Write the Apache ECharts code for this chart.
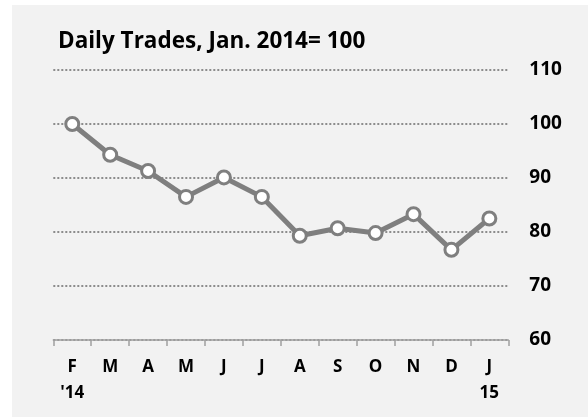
<!DOCTYPE html>
<html>
<head>
<meta charset="utf-8">
<script src="https://cdn.jsdelivr.net/npm/echarts@6/dist/echarts.min.js"></script>
<style>
  html, body { margin: 0; padding: 0; background: #fff; }
  #panel { position: absolute; left: 12px; top: 5px; right: 0; bottom: 0; background: #f2f2f2; }
  #chart { position: absolute; left: 0; top: 0; width: 588px; height: 417px; }
</style>
</head>
<body>
<div id="panel"></div>
<div id="chart"></div>
<script>
const months = ['F', 'M', 'A', 'M', 'J', 'J', 'A', 'S', 'O', 'N', 'D', 'J']
const years = ["'14", '', '', '', '', '', '', '', '', '', '', '15']
const dailyTrades = [100, 94.3, 91.3, 86.5, 90.1, 86.5, 79.3, 80.7, 79.8, 83.3, 76.7, 82.5]

const font = '"Open Sans", "Noto Sans", sans-serif'
const myChart = echarts.init(document.getElementById('chart'))

myChart.setOption({
  animation: false,
  title: {
    text: 'Daily Trades, Jan. 2014= 100',
    left: 53,
    top: 25,
    textStyle: {
      fontFamily: font,
      fontSize: 22.5,
      fontWeight: 'bold',
      color: '#000',
    },
  },
  grid: {
    left: 53.3,
    right: 79.7,
    top: 70,
    bottom: 77,
  },
  xAxis: {
    type: 'category',
    data: months,
    boundaryGap: true,
    axisLine: {
      lineStyle: { color: '#a0a0a0', width: 1.5 },
    },
    axisTick: {
      show: true,
      interval: 0,
      alignWithLabel: false,
      length: 6,
      lineStyle: { color: '#a0a0a0', width: 1.5 },
    },
    axisLabel: {
      margin: 14,
      interval: 0,
      fontFamily: font,
      fontSize: 17,
      fontWeight: 'bold',
      color: '#000',
      lineHeight: 26,
      formatter: (value, idx) => years[idx] ? `${value}\n${years[idx]}` : value,
    },
  },
  yAxis: {
    type: 'value',
    position: 'right',
    min: 60,
    max: 110,
    interval: 10,
    axisLine: { show: false },
    axisTick: { show: false },
    axisLabel: {
      margin: 21,
      fontFamily: font,
      fontSize: 19,
      fontWeight: 'bold',
      color: '#000',
    },
    splitLine: {
      lineStyle: {
        color: '#8c8c8c',
        width: 2,
        type: [2, 2],
      },
    },
  },
  series: [
    {
      type: 'line',
      data: dailyTrades,
      symbol: 'circle',
      symbolSize: 13,
      lineStyle: { color: '#7f7f7f', width: 5 },
      itemStyle: {
        color: '#fff',
        borderColor: '#7f7f7f',
        borderWidth: 3,
      },
    },
  ],
})
</script>
</body>
</html>
